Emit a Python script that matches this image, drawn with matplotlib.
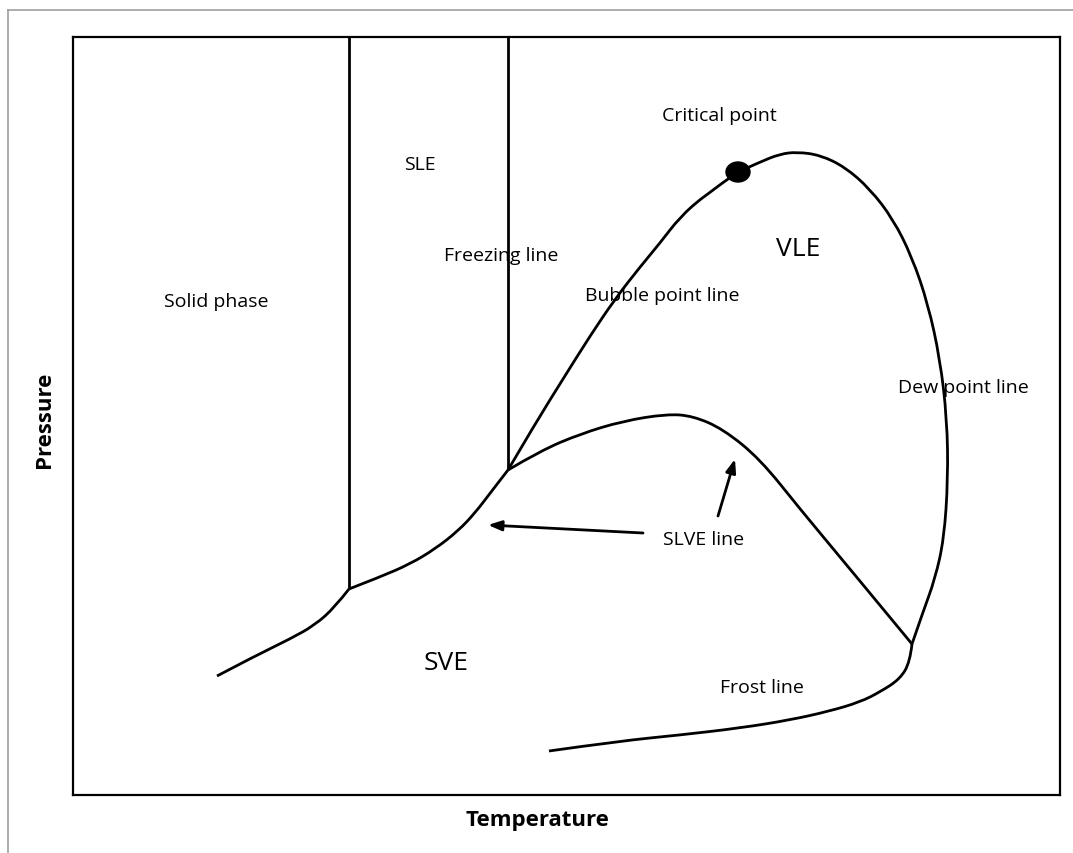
import matplotlib
matplotlib.use("Agg")
import matplotlib.pyplot as plt
from matplotlib.patches import Ellipse, PathPatch
from matplotlib.path import Path
from matplotlib.lines import Line2D

plt.rcParams['font.family'] = ['Open Sans', 'DejaVu Sans']

# schematic phase diagram, arbitrary units
sub_T = [144, 182, 217, 242, 262, 276]
sub_P = [119, 139, 156, 170, 188, 206]

slve_T = [276, 307, 337, 362, 385, 402, 418, 435]
slve_P = [206, 218, 231, 246, 264, 282, 303, 325]

bubble_T = [435, 462, 490, 517, 542, 567, 587, 607, 632, 665]
bubble_P = [325, 371, 416, 459, 496, 528, 552, 578, 600, 623]

dew_T = [665, 687, 707, 724, 747, 772, 797, 820, 839, 855, 867, 874, 875, 871, 862, 850, 839]
dew_P = [623, 633, 641, 643, 640, 628, 606, 576, 538, 491, 436, 376, 316, 256, 216, 183, 151]

frost_T = [839, 837, 827, 807, 787, 757, 717, 667, 607, 547, 476]
frost_P = [151, 133, 116, 103, 93, 84, 75, 67, 60, 54, 44]

slve2_T = [435, 467, 507, 550, 594, 620, 650, 687, 727, 777, 839]
slve2_P = [325, 344, 361, 374, 381, 379, 366, 336, 286, 226, 151]

freeze1_T = [276, 276]
freeze1_P = [206, 758]
freeze2_T = [435, 435]
freeze2_P = [325, 758]

crit_T, crit_P = 665, 623

labels = ["Critical point", "SLE", "Freezing line", "Solid phase", "VLE",
          "Bubble point line", "Dew point line", "SLVE line", "SVE", "Frost line"]
label_T = [646, 347, 428, 143, 725, 589, 890, 631, 373, 689]
label_P = [680, 631, 540, 494, 546, 500, 408, 256, 132, 108]
label_size = [14, 14, 14, 14, 19, 14, 14, 14, 19, 14]


def smooth_path(T, P):
    # quadratic bezier through the midpoints, data points act as control points
    pts = list(zip(T, P))
    verts = [pts[0]]
    codes = [Path.MOVETO]
    for i in range(1, len(pts) - 1):
        if i == len(pts) - 2:
            end = pts[-1]
        else:
            end = ((pts[i][0] + pts[i + 1][0]) / 2, (pts[i][1] + pts[i + 1][1]) / 2)
        verts += [pts[i], end]
        codes += [Path.CURVE3, Path.CURVE3]
    if len(pts) == 2:
        verts.append(pts[1])
        codes.append(Path.LINETO)
    return Path(verts, codes)


fig = plt.figure(figsize=(10.73, 8.54), dpi=100)
ax = fig.add_axes([73 / 1073, 1 - 796 / 854, 987 / 1073, 758 / 854])

for T, P in [(sub_T, sub_P), (slve_T, slve_P), (bubble_T, bubble_P), (dew_T, dew_P),
             (frost_T, frost_P), (slve2_T, slve2_P), (freeze1_T, freeze1_P),
             (freeze2_T, freeze2_P)]:
    ax.add_patch(PathPatch(smooth_path(T, P), facecolor='none', edgecolor='black',
                           lw=2, capstyle='butt', joinstyle='round'))

ax.add_patch(Ellipse((crit_T, crit_P), 24, 20, color='black', zorder=5))

for s, t, p, fs in zip(labels, label_T, label_P, label_size):
    ax.text(t, p, s, fontsize=fs, ha='center', va='center')

# arrows pointing at the SLVE lines
arrow = dict(arrowstyle='-|>,head_length=0.8,head_width=0.3', color='black', lw=2,
             shrinkA=0, shrinkB=0)
ax.annotate('', xy=(415, 270), xytext=(570, 262), arrowprops=arrow)
ax.annotate('', xy=(662, 336), xytext=(645, 279), arrowprops=arrow)

ax.set_xlim(0, 987)
ax.set_ylim(0, 758)
ax.set_xticks([])
ax.set_yticks([])
for sp in ax.spines.values():
    sp.set_linewidth(1.6)

ax.set_xlabel('Temperature', fontsize=16, fontweight='bold')
ax.set_ylabel('Pressure', fontsize=16, fontweight='bold')
ax.xaxis.set_label_coords(0.471, -0.032)
ax.yaxis.set_label_coords(-0.029, 0.496)
ax.xaxis.label.set_va('center')
ax.yaxis.label.set_va('center')

# light frame around the whole chart
fig.add_artist(Line2D([8 / 1073, 8 / 1073], [0, 1 - 11 / 854], color='#a0a0a0', lw=1.2,
                      transform=fig.transFigure))
fig.add_artist(Line2D([8 / 1073, 1], [1 - 11 / 854, 1 - 11 / 854], color='#a0a0a0', lw=1.2,
                      transform=fig.transFigure))

fig.savefig('out.png', dpi=100)
